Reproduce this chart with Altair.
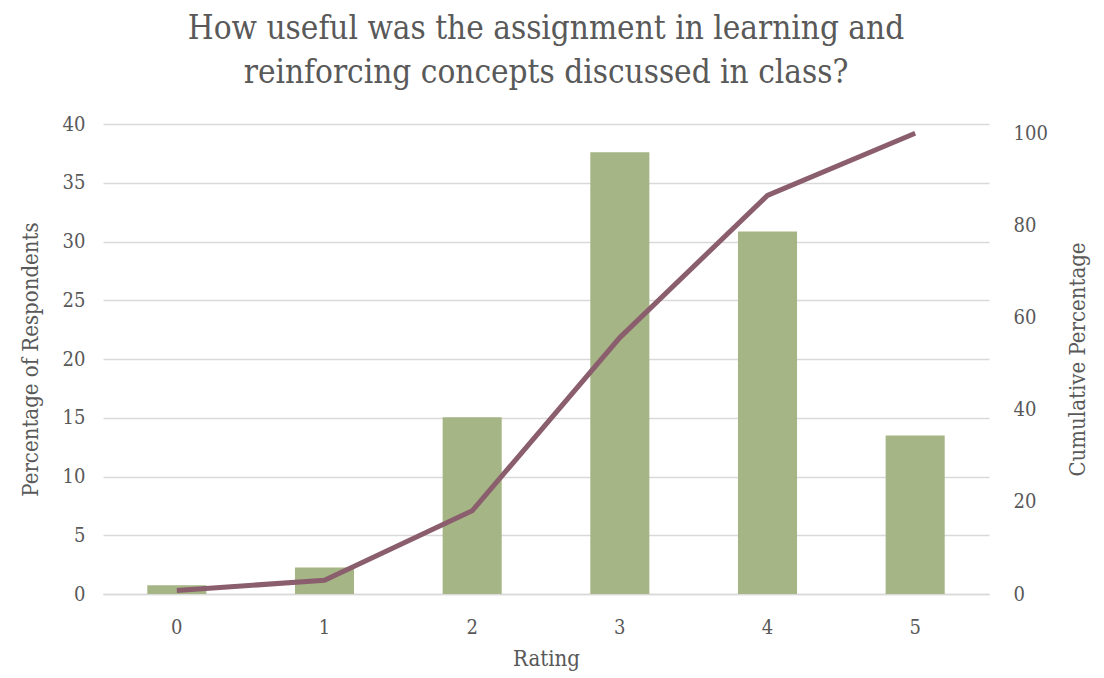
import altair as alt
import pandas as pd

ratings = ["0", "1", "2", "3", "4", "5"]
pct = [0.75, 2.25, 15.05, 37.6, 30.85, 13.5]
cum = [0.75, 3.0, 18.05, 55.65, 86.5, 100.0]

df = pd.DataFrame({"Rating": ratings, "Pct": pct, "Cum": cum})

FONT = "DejaVu Serif Condensed"
GREY = "#595959"

x = alt.X("Rating:N", sort=ratings,
          scale=alt.Scale(paddingInner=0.6, paddingOuter=0.3),
          axis=alt.Axis(title="Rating", labelAngle=0, ticks=False, domain=True,
                        domainColor="#D9D9D9", domainWidth=1.5,
                        labelPadding=23, titlePadding=11))

bars = alt.Chart(df).mark_bar(color="#A5B586").encode(
    x=x,
    y=alt.Y("Pct:Q", scale=alt.Scale(domain=[0, 40]),
            axis=alt.Axis(title="Percentage of Respondents", values=list(range(0, 45, 5)),
                          grid=True, gridColor="#D9D9D9", gridWidth=1.5,
                          ticks=False, domain=False, labelPadding=18, titlePadding=20))
)

line = alt.Chart(df).mark_line(color="#8B5E6E", strokeWidth=5).encode(
    x=x,
    y=alt.Y("Cum:Q", scale=alt.Scale(domain=[0, 102]),
            axis=alt.Axis(title="Cumulative Percentage", orient="right", values=list(range(0, 120, 20)),
                          titleAngle=270,
                          grid=False, ticks=False, domain=False, labelPadding=24, titlePadding=42))
)

chart = alt.layer(bars, line).resolve_scale(y="independent").properties(
    width=886, height=470,
    autosize=alt.AutoSizeParams(type="none"),
    title=alt.TitleParams(["How useful was the assignment in learning and",
                           "reinforcing concepts discussed in class?"],
                          fontSize=33, font=FONT, color=GREY, fontWeight="normal",
                          lineHeight=44, offset=24, anchor="middle"),
    padding={"left": 95, "top": 116, "right": 102, "bottom": 78}
).configure_view(stroke=None).configure_axis(
    labelFont=FONT, titleFont=FONT, labelColor=GREY, titleColor=GREY,
    labelFontSize=20, titleFontSize=22, titleFontWeight="normal"
)

chart.save("out.html", embed_options={"renderer": "svg", "actions": False})
